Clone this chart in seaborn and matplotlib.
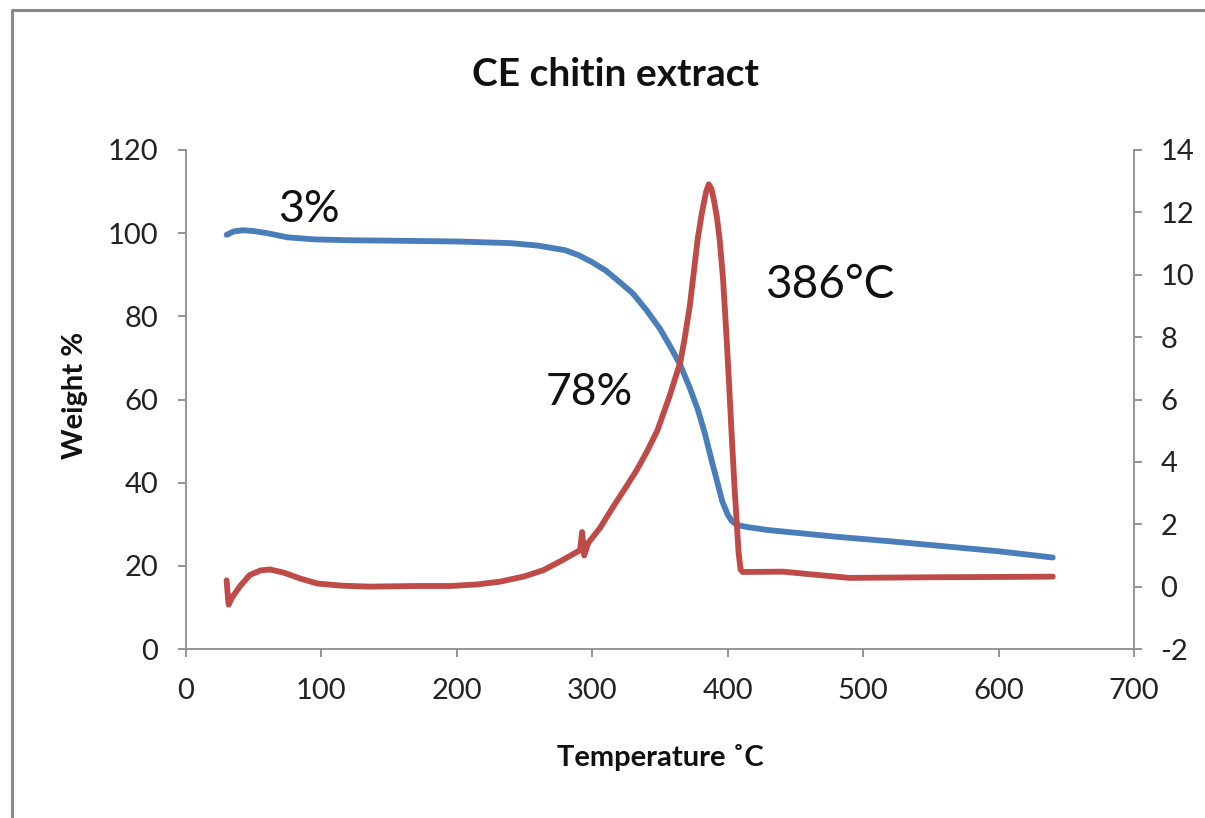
import numpy as np
import pandas as pd
import matplotlib
matplotlib.use("Agg")
import matplotlib.pyplot as plt
import seaborn as sns
from matplotlib.lines import Line2D

# ---- data ----
tg_temp = [30, 35, 42, 50, 60, 75, 95, 120, 150, 200, 240, 260, 280, 290, 300,
           310, 320, 330, 340, 350, 358, 365, 372, 378, 383, 388, 392, 396,
           400, 403, 407, 415, 430, 455, 480, 520, 550, 600, 640]
tg_weight = [99.6, 100.4, 100.7, 100.5, 100.0, 99.0, 98.5, 98.3, 98.2, 98.0,
             97.6, 97.0, 95.9, 94.7, 93.0, 91.0, 88.3, 85.5, 81.5, 77.0, 72.5,
             68.3, 62.8, 57.5, 52.0, 45.5, 40.5, 35.5, 32.3, 30.8, 29.8, 29.3,
             28.6, 27.8, 27.0, 25.9, 25.0, 23.5, 22.0]

dtg_temp = [30, 30.5, 31.5, 34, 40, 47, 55, 62, 72, 85, 97, 115, 135, 170,
            195, 215, 232, 250, 264, 278, 291, 292.5, 294, 297, 306, 316, 325,
            333, 340, 348, 357, 365, 368, 372, 375, 378, 381, 384, 386, 388,
            390, 392, 394, 396.5, 399, 401, 403, 405, 406.6, 408, 409.5, 411,
            441, 460, 490, 550, 600, 640]
dtg_rate = [0.2, -0.1, -0.58, -0.35, 0.02, 0.37, 0.52, 0.55, 0.45, 0.25, 0.1,
            0.03, 0.0, 0.02, 0.02, 0.07, 0.16, 0.33, 0.53, 0.85, 1.17, 1.75,
            1.0, 1.4, 1.9, 2.6, 3.2, 3.75, 4.3, 5.0, 6.1, 7.2, 7.9, 9.0, 10.1,
            11.2, 12.0, 12.65, 12.9, 12.75, 12.35, 11.85, 11.15, 9.9, 8.1, 6.5,
            4.8, 3.2, 2.1, 1.1, 0.55, 0.47, 0.48, 0.4, 0.28, 0.30, 0.31, 0.32]

x_ticks = [0, 100, 200, 300, 400, 500, 600, 700]
left_ticks = [0, 20, 40, 60, 80, 100, 120]
right_ticks = [-2, 0, 2, 4, 6, 8, 10, 12, 14]

title = "CE chitin extract"
x_label = "Temperature ˚C"
y_label = "Weight %"
annotations = [("3%", 91, 105.6), ("78%", 298, 61.6), ("386°C", 475, 87.5)]

# ---- style ----
sns.set_style("white")
plt.rcParams['font.family'] = ['Lato', 'DejaVu Sans']
plt.rcParams['axes.unicode_minus'] = False

BLUE = "#4A7EBB"
RED = "#BE4B48"
GRAY = "#8C8C8C"

fig = plt.figure(figsize=(12.05, 8.18), dpi=100)
ax = fig.add_axes([186 / 1205, 1 - 649 / 818, 948 / 1205, 499 / 818])
ax2 = ax.twinx()

tg = pd.DataFrame({"T": tg_temp, "W": tg_weight})
dtg = pd.DataFrame({"T": dtg_temp, "D": dtg_rate})

sns.lineplot(data=tg, x="T", y="W", ax=ax, color=BLUE, linewidth=4.2,
             estimator=None, sort=False, solid_capstyle="round",
             solid_joinstyle="round")
sns.lineplot(data=dtg, x="T", y="D", ax=ax2, color=RED, linewidth=4.2,
             estimator=None, sort=False, solid_capstyle="round",
             solid_joinstyle="round")

ax.set_xlim(0, 700)
ax.set_ylim(0, 120)
ax2.set_ylim(-2, 14)
ax.set_xticks(x_ticks)
ax.set_yticks(left_ticks)
ax2.set_yticks(right_ticks)

for a in (ax, ax2):
    for s in a.spines.values():
        s.set_color(GRAY)
        s.set_linewidth(1.3)
    a.spines['top'].set_visible(False)
ax.spines['right'].set_visible(False)
ax2.spines['left'].set_visible(False)
ax2.spines['bottom'].set_visible(False)

ax.tick_params(axis='both', which='major', direction='out', length=6,
               width=1.3, color=GRAY, labelsize=21, labelcolor="#222222",
               left=True, bottom=True)
ax.tick_params(axis='y', pad=14)
ax.tick_params(axis='x', pad=15)
ax2.tick_params(axis='y', direction='out', length=6, width=1.3, color=GRAY,
                labelsize=21, labelcolor="#222222", right=True, pad=13)

ax.set_xlabel(x_label, fontsize=21, fontweight='bold', color="#111111")
ax.set_ylabel(y_label, fontsize=21, fontweight='bold', color="#111111")
ax2.set_ylabel("")
ax.xaxis.set_label_coords(0.5, -0.19)
ax.yaxis.set_label_coords(-0.103, 0.509)

for i, (txt, xx, yy) in enumerate(annotations):
    ax.text(xx, yy, txt, fontsize=33 if i == 2 else 32, ha='center',
            va='center', color="#111111")

fig.text(615 / 1205, 1 - 75 / 818, title, fontsize=28, fontweight='bold',
         ha='center', va='center', color="#111111")

# outer chart border (only top and left edges visible)
bx, by = 12 / 1205, 1 - 10 / 818
fig.add_artist(Line2D([bx, bx, 1.05], [-0.05, by, by], transform=fig.transFigure,
                      color="#8A8A8A", linewidth=2.2))

fig.savefig("out.png", dpi=100)
